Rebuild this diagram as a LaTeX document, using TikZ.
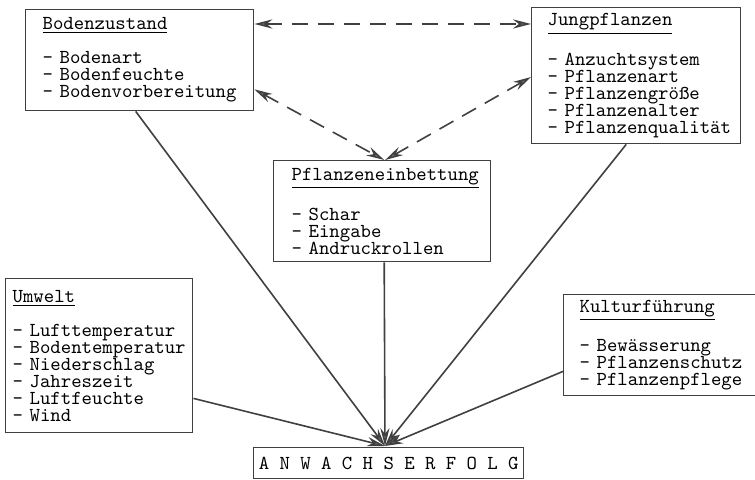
\documentclass[tikz,border=0pt]{standalone}
\usepackage{fontspec}
\usetikzlibrary{arrows.meta}
\hyphenpenalty=10000
\exhyphenpenalty=10000
\begin{document}
\begin{tikzpicture}[x=0.5pt,y=-0.5pt,
  kasten/.style={draw=black!75,line width=0.7pt,anchor=north west,align=left,
    font=\ttfamily\fontsize{9.9}{8.5}\selectfont,inner ysep=2pt},
  pfeil/.style={color=black!75,line width=0.8pt,-{Stealth[length=9pt,width=4.6pt,fill=black!55]}},
  doppel/.style={color=black!75,line width=0.8pt,dash pattern=on 8pt off 5pt,
    {Stealth[length=9pt,width=4.6pt,fill=black!55]}-{Stealth[length=9pt,width=4.6pt,fill=black!55]}}]
\useasboundingbox (0,0) rectangle (755,480);
\node (boden) [kasten,inner xsep=8.5pt,text width=97pt,minimum height=50.5pt] at (25,9)
  {\underline{Bodenzustand}\\[8.5pt]-~Bodenart\\-~Bodenfeuchte\\-~Bodenvorbereitung};
\node (jung) [kasten,inner xsep=8pt,text width=88.5pt,minimum height=68pt] at (531,7)
  {\underline{Jungpflanzen}\\[8.5pt]-~Anzuchtsystem\\-~Pflanzenart\\-~Pflanzengröße\\-~Pflanzenalter\\-~Pflanzenqualität};
\node (einb) [kasten,inner xsep=9pt,text width=90.5pt,minimum height=50.5pt] at (273,160)
  {\underline{Pflanzeneinbettung}\\[8.5pt]-~Schar\\-~Eingabe\\-~Andruckrollen};
\node (umwelt) [kasten,inner xsep=3.5pt,text width=86.5pt,minimum height=77pt] at (5,278)
  {\underline{Umwelt}\\[8.5pt]-~Lufttemperatur\\-~Bodentemperatur\\-~Niederschlag\\-~Jahreszeit\\-~Luftfeuchte\\-~Wind};
\node (kultur) [kasten,inner xsep=8pt,text width=80pt,minimum height=50.5pt] at (563,294)
  {\underline{Kulturführung}\\[8.5pt]-~Bewässerung\\-~Pflanzenschutz\\-~Pflanzenpflege};
\node (erfolg) [kasten,align=center,inner xsep=0pt,minimum width=135pt,minimum height=15.5pt] at (253,447)
  {A~N~W~A~C~H~S~E~R~F~O~L~G};
\coordinate (ziel) at (385,446);
\path[doppel] ([yshift=-7.5pt]boden.north east) edge ([yshift=-8.5pt]jung.north west);
\path[doppel] ([yshift=11pt]boden.south east) edge ([xshift=1pt]einb.north);
\path[doppel] ([yshift=-35pt]jung.north west) edge ([xshift=1.5pt]einb.north);
\path[pfeil] ([xshift=-2pt]boden.south) edge (ziel);
\path[pfeil] ([xshift=-5pt]jung.south) edge (ziel);
\path[pfeil] ([xshift=1pt]einb.south) edge (ziel);
\path[pfeil] ([yshift=17.5pt]umwelt.south east) edge (ziel);
\path[pfeil] ([yshift=12.5pt]kultur.south west) edge (ziel);
\end{tikzpicture}
\end{document}
